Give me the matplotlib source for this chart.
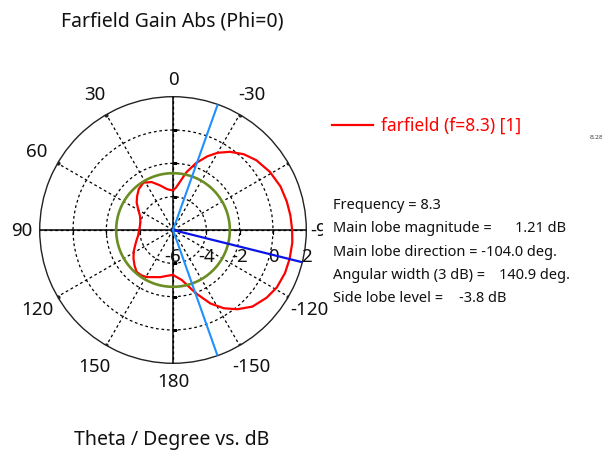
import numpy as np
import matplotlib.pyplot as plt
from matplotlib.patches import Rectangle
from matplotlib.transforms import offset_copy

# farfield gain (dB) vs theta (deg)
theta = [-180, -175, -170, -166, -160, -153, -147, -141, -134, -126, -119, -111,
         -104, -96, -90, -83, -76, -68, -59, -50, -43, -36, -30, -25, -19, -13,
         -8, -4, 0, 5, 9, 16, 24, 32, 40, 47, 53, 60, 67, 75, 83, 90, 99, 106,
         112, 119, 126, 133, 139, 145, 151, 158, 165, 171, 176, 180]
gain = [-3.30, -3.15, -2.95, -2.62, -1.95, -1.05, -0.40, 0.12, 0.62, 0.93, 1.12, 1.20,
        1.21, 1.20, 1.15, 1.10, 1.04, 0.96, 0.78, 0.52, 0.22, -0.20, -0.65, -1.12, -1.75, -2.45,
        -3.10, -3.45, -3.62, -3.58, -3.50, -3.22, -2.85, -2.65, -2.80, -3.05, -3.27, -3.60, -3.85, -3.97, -4.00, -3.97, -3.88, -3.72,
        -3.55, -3.30, -3.07, -2.85, -2.67, -2.68, -2.77, -2.95, -3.07, -3.20, -3.27, -3.30]

freq = 8.3
main_mag = 1.21
main_dir = -104.0
ang_width = 140.9
side_lobe = -3.8
beam_edges = [-19.6, -160.5]

r_min, r_max = -6, 2
ring_vals = [-4, -2, 0]
radial_labels = [-6, -4, -2, 0, 2]
angle_labels = [0, 30, 60, 90, 120, 150, 180, -150, -120, -90, -30]

fig = plt.figure(figsize=(6.02, 4.52), dpi=100)
font = 'Noto Sans'
txt = '#111111'

ax = fig.add_axes([0.06595, 0.19403, 0.44286, 0.58982], projection='polar')
ax.set_theta_zero_location('N')
ax.set_theta_direction(1)
ax.set_rlim(r_min, r_max)
ax.set_thetagrids(range(0, 360, 30), labels=[''] * 12)
ax.set_rgrids(ring_vals, labels=[''] * len(ring_vals))
ax.grid(True, color='black', linestyle=(0, (2.2, 2.2)), linewidth=0.9)
ax.spines['polar'].set_linewidth(1.0)
ax.spines['polar'].set_color('#222222')

# solid axis cross
ax.plot(np.radians([0, 0, 180]), [r_max, r_min, r_max], color='black', lw=1.1, zorder=3)
ax.plot(np.radians([90, 90, -90]), [r_max, r_min, r_max], color='black', lw=1.1, zorder=3)
# small ticks on the cross
for a in [0, 180]:
    ax.plot(np.radians([a] * 3), ring_vals, ls='none', marker=1, ms=3, mew=0.9, color='black', zorder=3)
for a in [90, -90]:
    ax.plot(np.radians([a] * 3), ring_vals, ls='none', marker=3, ms=3, mew=0.9, color='black', zorder=3)
spokes = [30, 60, 120, 150, -30, -60, -120, -150]
ax.plot(np.radians(spokes), [r_max] * len(spokes), ls='none', marker='o', ms=2, color='#222222', zorder=3)

# pattern
ax.plot(np.radians(theta), gain, color='#ff0000', lw=1.6, zorder=4)
circ = np.linspace(0, 2 * np.pi, 200)
ax.plot(circ, np.full_like(circ, main_mag + side_lobe), color='#6b8e23', lw=1.9, zorder=5)
ax.plot(np.radians([main_dir, main_dir]), [r_min, r_max], color='#0a14e6', lw=1.6, zorder=6)
for e in beam_edges:
    ax.plot(np.radians([e, e]), [r_min, r_max], color='#1e90ff', lw=1.5, zorder=6)

# angle labels
px_per_db = 133.3 / (r_max - r_min)
for a in angle_labels:
    dist = 151 + 7 * abs(np.sin(np.radians(2 * a)))
    ax.text(np.radians(a), r_min + dist / px_per_db, str(a), ha='center', va='center',
            fontsize=13.5, family=font, color=txt, clip_on=False)
# radial labels under the -90 axis
lab_tr = offset_copy(ax.transData, fig=fig, y=-26, units='dots')
for v in radial_labels:
    ax.text(np.radians(-90), v, str(v), transform=lab_tr, ha='center', va='center',
            fontsize=13.5, family=font, color=txt, clip_on=False)

fig.text(172 / 602, 1 - 22 / 452, 'Farfield Gain Abs (Phi=0)', ha='center', va='center',
         fontsize=14, family=font, color=txt)
fig.text(172 / 602, 1 - 440 / 452, 'Theta / Degree vs. dB', ha='center', va='center',
         fontsize=14, family=font, color=txt)

# white panel of the info box, covers the clipped labels
fig.add_artist(Rectangle((323 / 602, 1 - 300 / 452), 1, 115 / 452, transform=fig.transFigure,
                         facecolor='white', edgecolor='none', zorder=10))
fig.add_artist(Rectangle((330 / 602, 1 - 335 / 452), 1, 40 / 452, transform=fig.transFigure,
                         facecolor='white', edgecolor='none', zorder=10))

# legend
fig.add_artist(plt.Line2D([332 / 602, 373 / 602], [1 - 126 / 452] * 2, color='#ff0000', lw=1.6,
                          transform=fig.transFigure))
fig.text(381 / 602, 1 - 126 / 452, 'farfield (f=%.1f) [1]' % freq, ha='left', va='center',
         fontsize=12.5, family=font, color='#ff0000')
fig.text(590 / 602, 1 - 138 / 452, '8.28', ha='left', va='center', fontsize=4.5,
         family='DejaVu Serif', color='#333333')

info = [
    (206, 'Frequency = %.1f' % freq, None, None),
    (229, 'Main lobe magnitude =', '%.2f dB' % main_mag, 515),
    (253, 'Main lobe direction = %.1f deg.' % main_dir, None, None),
    (276, 'Angular width (3 dB) =', '%.1f deg.' % ang_width, 499),
    (299, 'Side lobe level =', '%.1f dB' % side_lobe, 459),
]
for y, s, v, vx in info:
    fig.text(333 / 602, 1 - y / 452, s, ha='left', va='center', fontsize=10.5,
             family=font, color=txt, zorder=11)
    if v:
        fig.text(vx / 602, 1 - y / 452, v, ha='left', va='center', fontsize=10.5,
                 family=font, color=txt, zorder=11)

plt.savefig('out.png', dpi=100)
